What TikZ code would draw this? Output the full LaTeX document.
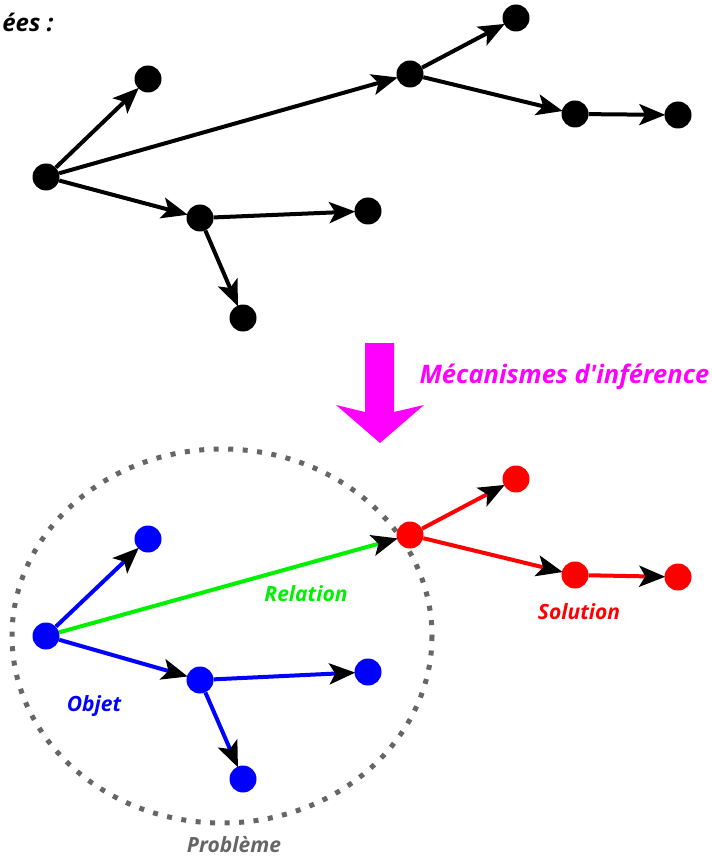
\documentclass[tikz,border=0pt]{standalone}
\usepackage{fontspec}
\setmainfont{Open Sans}
\usetikzlibrary{arrows.meta,positioning,calc}
\definecolor{blu}{RGB}{0,0,255}
\definecolor{rouge}{RGB}{255,0,0}
\definecolor{vert}{RGB}{0,240,0}
\definecolor{mag}{RGB}{255,0,255}
\definecolor{gris}{RGB}{102,102,102}
\tikzset{
	dot/.style={circle,fill=#1,inner sep=0pt,minimum size=27pt},
	dot/.default=black,
	lien/.style={line width=4pt,draw=#1,-{Stealth[black,length=26pt,width=21pt,inset=6pt]},shorten >=-1pt},
	lien/.default=black,
	lab/.style={font=\fontsize{21}{24}\selectfont\bfseries\itshape,text=#1}
}
\begin{document}
\begin{tikzpicture}[x=1pt,y=-1pt]
	\useasboundingbox (0,0) rectangle (711,858);
	
	% top graph
	\node[dot] (A) at (46,177) {};
	\node[dot] (B) at (148,79) {};
	\node[dot] (C) at (410,74) {};
	\node[dot] (D) at (516,18) {};
	\node[dot] (E) at (575,114) {};
	\node[dot] (F) at (678,115) {};
	\node[dot] (G) at (200,218) {};
	\node[dot] (H) at (368,211) {};
	\node[dot] (I) at (243,318) {};
	
	\draw[lien] (A)--(B);
	\draw[lien] (A)--(C);
	\draw[lien] (A)--(G);
	\draw[lien] (G)--(H);
	\draw[lien] (G)--(I);
	\draw[lien] (C)--(D);
	\draw[lien] (C)--(E);
	\draw[lien] (E)--(F);
	
	\node[lab=black,font=\fontsize{24}{27}\selectfont\bfseries\itshape,anchor=east] (titre) at (57,22) {ées :};
	
	% inference arrow
	\fill[mag] (365,343)--(394,343)--(394,412)--(424,405)--(380,443)--(336,405)--(365,412)--cycle;
	\node[lab=mag,font=\fontsize{25.5}{28}\selectfont\bfseries\itshape,anchor=west] (inf) at (416,377) {Mécanismes d\textquotesingle inférence};
	
	% problem circle
	\draw[gris,line width=5pt,dash pattern=on 5pt off 9.5pt] (222,636) ellipse [x radius=210,y radius=187];
	
	% bottom graph
	\node[dot=blu] (A2) at (46,636) {};
	\node[dot=blu] (B2) at (148,539) {};
	\node[dot=rouge] (C2) at (410,535) {};
	\node[dot=rouge] (D2) at (516,479) {};
	\node[dot=rouge] (E2) at (575,575) {};
	\node[dot=rouge] (F2) at (678,577) {};
	\node[dot=blu] (G2) at (200,680) {};
	\node[dot=blu] (H2) at (368,672) {};
	\node[dot=blu] (I2) at (243,779) {};
	
	\draw[lien=blu] (A2)--(B2);
	\draw[lien=vert] (A2)--(C2);
	\draw[lien=blu] (A2)--(G2);
	\draw[lien=blu] (G2)--(H2);
	\draw[lien=blu] (G2)--(I2);
	\draw[lien=rouge] (C2)--(D2);
	\draw[lien=rouge] (C2)--(E2);
	\draw[lien=rouge] (E2)--(F2);
	
	% labels
	\node[lab=vert] (rel) at (306,594) {Relation};
	\node[lab=rouge] (sol) at (579,612) {Solution};
	\node[lab=blu] (obj) at (94,706) {Objet};
	\node[lab=gris] (pb) at (234,845) {Problème};
\end{tikzpicture}
\end{document}
